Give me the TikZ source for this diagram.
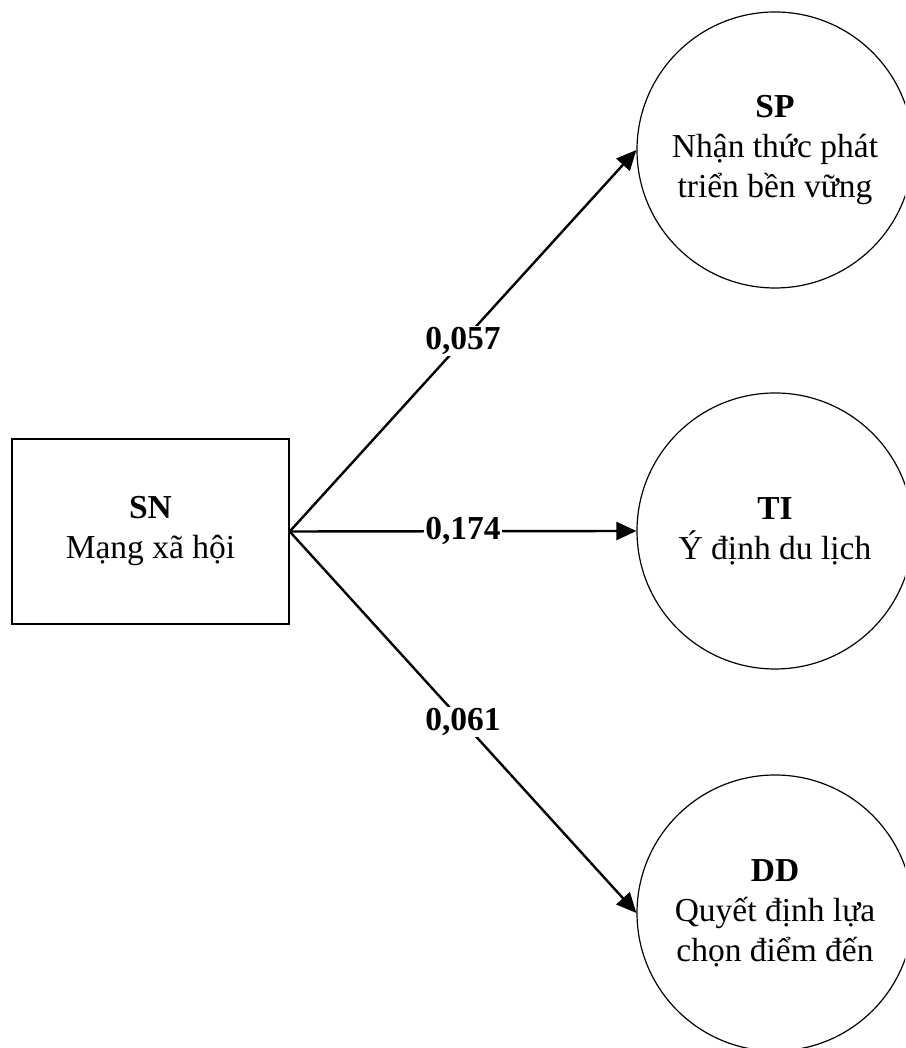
\documentclass[tikz,border=0pt]{standalone}
\usepackage{fontspec}
\setmainfont{Liberation Serif}
\usetikzlibrary{arrows.meta}
\begin{document}
\begin{tikzpicture}[x=1pt,y=1pt,
  txt/.style={font=\fontsize{33.5}{40}\selectfont, align=center},
  construct/.style={txt, draw, line width=1.2pt, circle, minimum size=276pt, inner sep=0pt},
  sourcebox/.style={txt, draw, line width=1.4pt, rectangle, minimum width=277pt, minimum height=185pt, inner sep=0pt},
  path/.style={line width=2.4pt, -{Triangle[length=20pt,width=18pt]}},
  coef/.style={font=\fontsize{33.5}{40}\selectfont\bfseries, fill=white, inner sep=1.5pt}]
\useasboundingbox (0,0) rectangle (905,1048);
\clip (0,0) rectangle (905,1048);
\fill[white] (0,0) rectangle (905,1048);

\node[sourcebox] (SN) at (150.5,516.5) {\textbf{SN}\\Mạng xã hội};
\node[construct] (SP) at (775,898) {\textbf{SP}\\Nhận thức phát\\triển bền vững};
\node[construct] (TI) at (775,517) {\textbf{TI}\\Ý định du lịch};
\node[construct] (DD) at (775,135) {\textbf{DD}\\Quyết định lựa\\chọn điểm đến};

\draw[path] (SN.east) -- node[coef] {0,057} (SP.west);
\draw[path] (SN.east) -- node[coef] {0,174} (TI.west);
\draw[path] (SN.east) -- node[coef] {0,061} (DD.west);
\end{tikzpicture}
\end{document}
